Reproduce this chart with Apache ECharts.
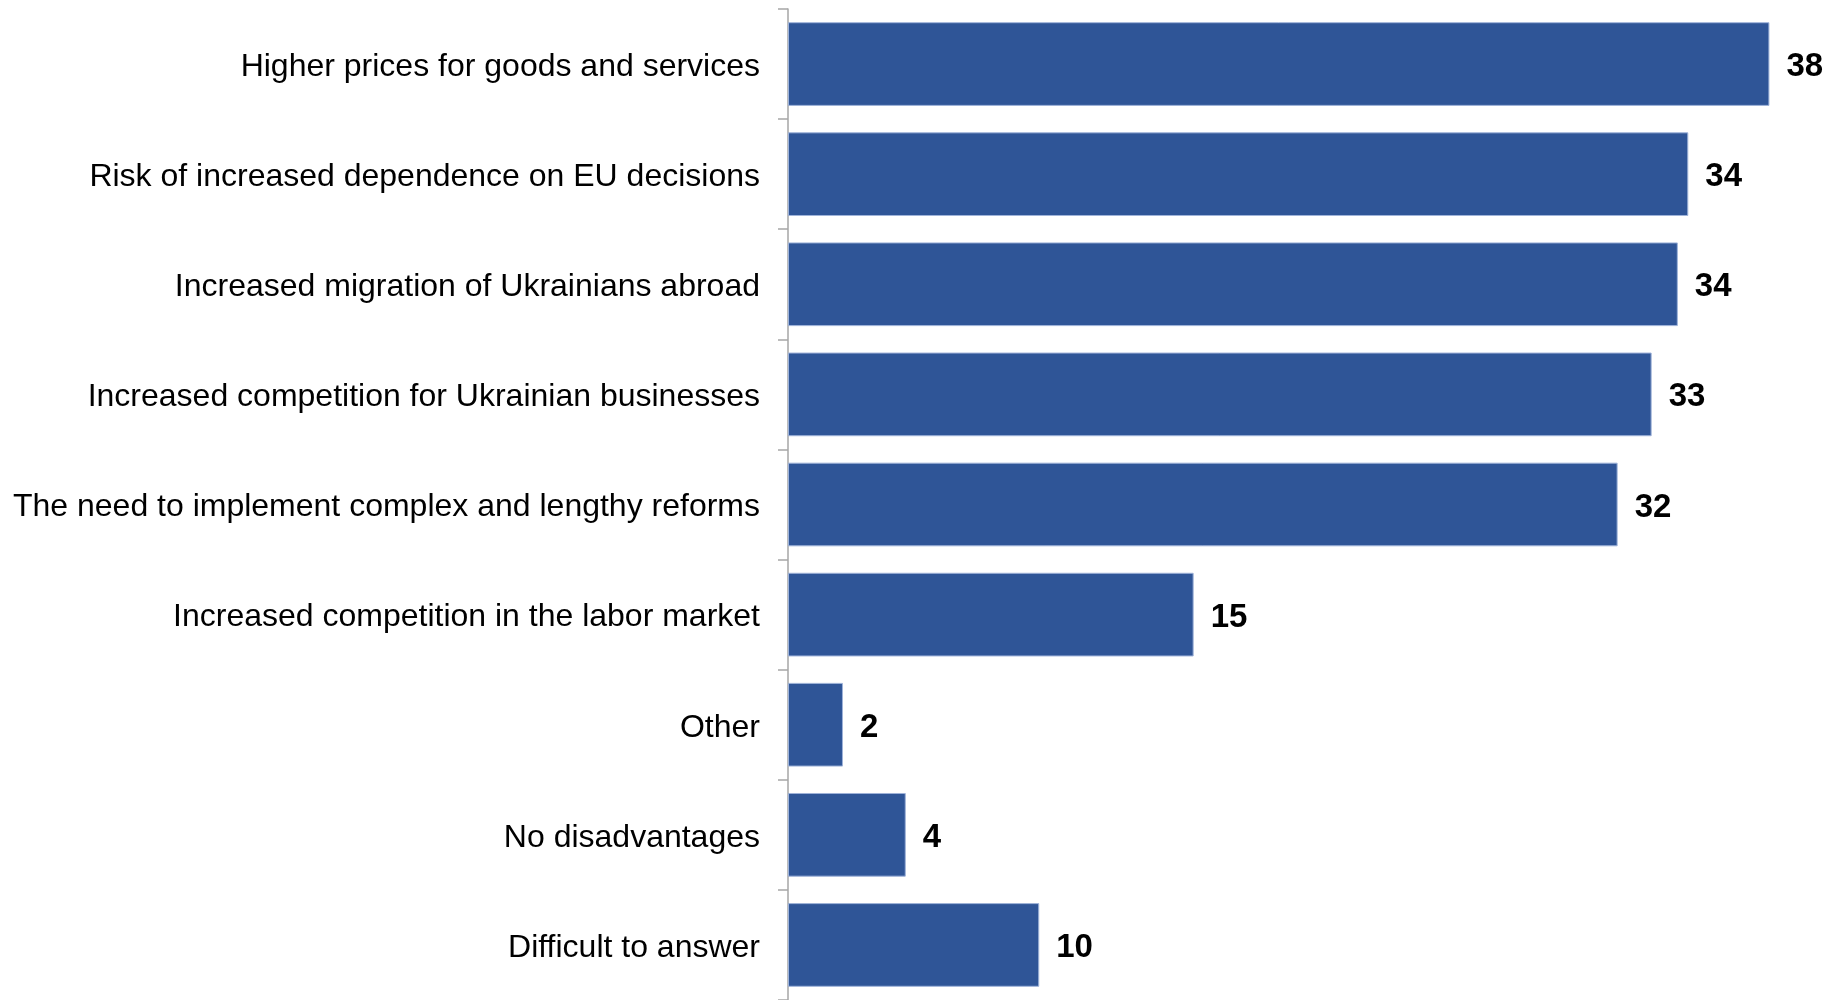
<!DOCTYPE html>
<html>
<head>
<meta charset="utf-8">
<script src="https://cdn.jsdelivr.net/npm/echarts@6/dist/echarts.min.js"></script>
<style>
  html, body { margin: 0; padding: 0; background: #fff; }
  #chart { width: 1827px; height: 1000px; }
</style>
</head>
<body>
<div id="chart"></div>
<script>
// categories, top to bottom
const categories = [
  'Higher prices for goods and services',
  'Risk of increased dependence on EU decisions',
  'Increased migration of Ukrainians abroad',
  'Increased competition for Ukrainian businesses',
  'The need to implement complex and lengthy reforms',
  'Increased competition in the labor market',
  'Other',
  'No disadvantages',
  'Difficult to answer'
];
// bar lengths
const values = [37.5, 34.4, 34.0, 33.0, 31.7, 15.5, 2.1, 4.5, 9.6];
// labels printed next to the bars
const shownLabels = [38, 34, 34, 33, 32, 15, 2, 4, 10];

const chart = echarts.init(document.getElementById('chart'));

chart.setOption({
  animation: false,
  grid: { left: 788, right: 0, top: 9, height: 994 },
  xAxis: {
    type: 'value',
    min: 0,
    max: 39.7,
    show: false
  },
  yAxis: {
    type: 'category',
    inverse: true,
    data: categories,
    axisLine: { show: true, lineStyle: { color: '#a6a6a6', width: 1.5 } },
    axisTick: { show: true, length: 10, lineStyle: { color: '#a6a6a6', width: 1.5 } },
    axisLabel: {
      margin: 28,
      formatter: v => '{t|' + v + '}',
      rich: {
        t: {
          color: '#000',
          fontSize: 32,
          padding: [6, 0, 0, 0],
          fontFamily: 'Liberation Sans, Arial, sans-serif'
        }
      }
    },
    splitLine: { show: false }
  },
  series: [{
    type: 'bar',
    data: values,
    barCategoryGap: '24%',
    itemStyle: { color: '#2F5597', borderColor: '#9fb3d9', borderWidth: 1 },
    label: {
      show: true,
      position: 'right',
      distance: 17,
      offset: [0, 3],
      color: '#000',
      fontSize: 33,
      fontWeight: 'bold',
      fontFamily: 'Liberation Sans, Arial, sans-serif',
      formatter: p => shownLabels[p.dataIndex]
    }
  }]
});
</script>
</body>
</html>
